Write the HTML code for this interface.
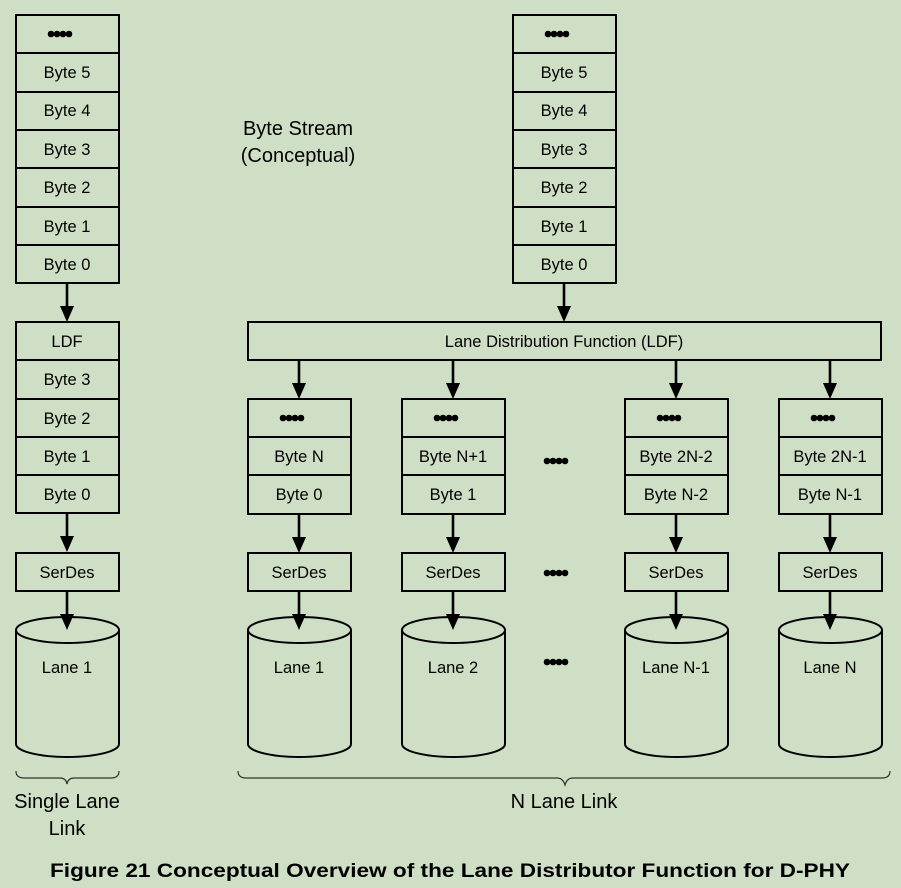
<!DOCTYPE html>
<html><head><meta charset="utf-8"><style>
html,body{margin:0;padding:0;background:#cfdfc5;}
svg{display:block;font-family:"Liberation Sans",sans-serif;}
</style></head><body>
<svg width="901" height="888" viewBox="0 0 901 888" xmlns="http://www.w3.org/2000/svg">
<defs>
<g id="dots"><circle cx="-9" cy="0" r="3.3"/><circle cx="-3" cy="0" r="3.3"/><circle cx="3" cy="0" r="3.3"/><circle cx="9" cy="0" r="3.3"/></g>
<g id="arr"><line x1="0" y1="0" x2="0" y2="24" stroke="#000" stroke-width="2.6"/><path d="M-7,23 L7,23 L0,39 z" fill="#000"/></g>
</defs>
<rect width="901" height="888" fill="#cfdfc5"/>
<g stroke="#000" stroke-width="2" fill="none">
<rect x="16" y="15" width="103" height="268"/>
<path d="M16 53H119M16 92H119M16 130H119M16 168H119M16 207H119M16 245H119"/>
<rect x="513" y="15" width="103" height="268"/>
<path d="M513 53H616M513 92H616M513 130H616M513 168H616M513 207H616M513 245H616"/>
<rect x="16" y="322" width="103" height="191"/>
<path d="M16 360H119M16 399H119M16 437H119M16 475H119"/>
<rect x="248" y="322" width="633" height="38"/>
<rect x="248" y="399" width="103" height="115"/><path d="M248 437H351M248 475H351"/>
<rect x="402" y="399" width="103" height="115"/><path d="M402 437H505M402 475H505"/>
<rect x="625" y="399" width="103" height="115"/><path d="M625 437H728M625 475H728"/>
<rect x="779" y="399" width="103" height="115"/><path d="M779 437H882M779 475H882"/>
<rect x="16" y="553" width="103" height="38"/>
<rect x="248" y="553" width="103" height="38"/>
<rect x="402" y="553" width="103" height="38"/>
<rect x="625" y="553" width="103" height="38"/>
<rect x="779" y="553" width="103" height="38"/>
<g id="cy">
<path d="M16 630V744A51.5 13 0 0 0 119 744V630"/>
<ellipse cx="67.5" cy="630" rx="51.5" ry="13"/>
</g>
<use href="#cy" x="232"/><use href="#cy" x="386"/><use href="#cy" x="609"/><use href="#cy" x="763"/>
</g>
<use href="#arr" x="67" y="283"/>
<use href="#arr" x="564" y="283"/>
<use href="#arr" x="67" y="513"/>
<use href="#arr" x="67" y="591"/>
<use href="#arr" x="299" y="360"/><use href="#arr" x="453" y="360"/><use href="#arr" x="676" y="360"/><use href="#arr" x="830" y="360"/>
<use href="#arr" x="299" y="514"/><use href="#arr" x="453" y="514"/><use href="#arr" x="676" y="514"/><use href="#arr" x="830" y="514"/>
<use href="#arr" x="299" y="591"/><use href="#arr" x="453" y="591"/><use href="#arr" x="676" y="591"/><use href="#arr" x="830" y="591"/>
<g stroke="#333" stroke-width="1.2" fill="none">
<path d="M16 771Q16 778 24 778H60Q66 778 67 784Q68 778 74 778H111Q119 778 119 771"/>
<path d="M238 771Q238 778 246 778H557Q563 778 565 785Q567 778 573 778H882Q890 778 890 771"/>
</g>
<g fill="#000">
<use href="#dots" x="60" y="34"/><use href="#dots" x="557" y="34"/>
<use href="#dots" x="292" y="418"/><use href="#dots" x="446" y="418"/><use href="#dots" x="669" y="418"/><use href="#dots" x="823" y="418"/>
<use href="#dots" x="556" y="461"/><use href="#dots" x="556" y="573"/><use href="#dots" x="556" y="662"/>
</g>
<g font-size="16.5" fill="#000" text-anchor="middle">
<text x="67" y="78">Byte 5</text><text x="67" y="116">Byte 4</text><text x="67" y="155">Byte 3</text>
<text x="67" y="193">Byte 2</text><text x="67" y="232">Byte 1</text><text x="67" y="270">Byte 0</text>
<text x="564" y="78">Byte 5</text><text x="564" y="116">Byte 4</text><text x="564" y="155">Byte 3</text>
<text x="564" y="193">Byte 2</text><text x="564" y="232">Byte 1</text><text x="564" y="270">Byte 0</text>
<text x="67" y="347">LDF</text><text x="67" y="385">Byte 3</text><text x="67" y="424">Byte 2</text>
<text x="67" y="462">Byte 1</text><text x="67" y="500">Byte 0</text>
<text x="564" y="347">Lane Distribution Function (LDF)</text>
<text x="299" y="462">Byte N</text><text x="453" y="462">Byte N+1</text><text x="676" y="462">Byte 2N-2</text><text x="830" y="462">Byte 2N-1</text>
<text x="299" y="500">Byte 0</text><text x="453" y="500">Byte 1</text><text x="676" y="500">Byte N-2</text><text x="830" y="500">Byte N-1</text>
<text x="67" y="578">SerDes</text><text x="299" y="578">SerDes</text><text x="453" y="578">SerDes</text><text x="676" y="578">SerDes</text><text x="830" y="578">SerDes</text>
<text x="67" y="673">Lane 1</text><text x="299" y="673">Lane 1</text><text x="453" y="673">Lane 2</text><text x="676" y="673">Lane N-1</text><text x="830" y="673">Lane N</text>
<text x="298" y="135" font-size="20">Byte Stream</text>
<text x="298" y="162" font-size="20">(Conceptual)</text>
<text x="67" y="808" font-size="20">Single Lane</text>
<text x="67" y="835" font-size="20">Link</text>
<text x="564" y="808" font-size="20">N Lane Link</text>
<text x="450" y="877" font-size="19" font-weight="bold" textLength="800" lengthAdjust="spacingAndGlyphs">Figure 21 Conceptual Overview of the Lane Distributor Function for D-PHY</text>
</g>
</svg>
</body></html>
